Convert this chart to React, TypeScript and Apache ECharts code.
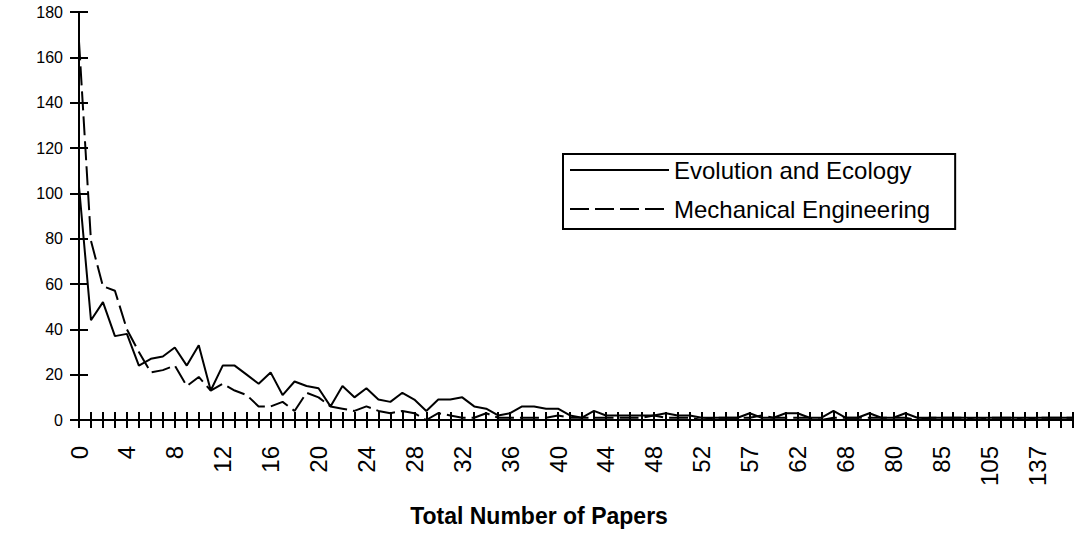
import React, { useEffect, useRef } from "react";
import * as echarts from "echarts";

// Total number of papers (category axis)
const paperCounts = [
  "0", "1", "2", "3", "4", "5", "6", "7", "8", "9",
  "10", "11", "12", "13", "14", "15", "16", "17", "18", "19",
  "20", "21", "22", "23", "24", "25", "26", "27", "28", "29",
  "30", "31", "32", "33", "34", "35", "36", "37", "38", "39",
  "40", "41", "42", "43", "44", "45", "46", "47", "48", "49",
  "50", "51", "52", "53", "54", "55", "57", "58", "59", "60",
  "62", "63", "64", "66", "68", "70", "72", "76", "80", "81",
  "82", "84", "85", "88", "92", "98", "105", "110", "118", "125",
  "137", "150", "170", "203",
];

// Evolution and Ecology (solid line)
const evolutionEcology = [
  103, 44, 52, 37, 38, 24, 27, 28, 32, 24,
  33, 13, 24, 24, 20, 16, 21, 11, 17, 15,
  14, 6, 15, 10, 14, 9, 8, 12, 9, 4,
  9, 9, 10, 6, 5, 2, 3, 6, 6, 5,
  5, 2, 1, 4, 2, 2, 2, 2, 2, 3,
  2, 2, 1, 1, 1, 1, 3, 1, 1, 3,
  3, 1, 1, 4, 1, 1, 3, 1, 1, 3,
  1, 1, 1, 1, 1, 1, 1, 1, 1, 1,
  1, 1, 1, 1,
];

// Mechanical Engineering (dashed line)
const mechanicalEngineering = [
  167, 79, 59, 57, 40, 30, 21, 22, 24, 15,
  19, 13, 16, 13, 11, 6, 6, 8, 4, 12,
  10, 6, 5, 4, 6, 4, 3, 4, 3, 0,
  3, 2, 1, 1, 3, 1, 1, 1, 1, 1,
  2, 1, 1, 1, 1, 1, 1, 1, 2, 1,
  1, 1, 0, 1, 1, 1, 1, 2, 1, 1,
  1, 1, 0, 1, 1, 1, 1, 1, 1, 1,
  0, 1, 1, 1, 1, 0, 1, 1, 1, 0,
  1, 1, 1, 1,
];

const seriesNames = ["Evolution and Ecology", "Mechanical Engineering"];
const xAxisTitle = "Total Number of Papers";
const yMin = 0;
const yMax = 180;
const yStep = 20;

const FONT = '"Liberation Sans", Arial, Helvetica, sans-serif';
const BLACK = "#000000";

export default function App() {
  const ref = useRef<HTMLDivElement | null>(null);

  useEffect(() => {
    if (!ref.current) return;
    const chart = echarts.init(ref.current, undefined, { renderer: "svg" });
    const axisLineStyle = { color: BLACK, width: 2 };

    chart.setOption({
      animation: false,
      backgroundColor: "#ffffff",
      textStyle: { fontFamily: FONT, color: BLACK },
      grid: { left: 79, right: 1, top: 12, bottom: 117, containLabel: false },
      legend: {
        data: seriesNames,
        orient: "vertical",
        left: 563,
        top: 154,
        padding: [4, 25, 8, 6],
        itemGap: 15,
        itemWidth: 99,
        itemHeight: 14,
        borderColor: BLACK,
        borderWidth: 2,
        backgroundColor: "#ffffff",
        itemStyle: { opacity: 0 },
        textStyle: { fontSize: 24, color: BLACK, fontFamily: FONT },
      },
      xAxis: [
        {
          type: "category",
          data: paperCounts,
          boundaryGap: false,
          position: "bottom",
          axisLine: { show: true, lineStyle: axisLineStyle },
          axisTick: { show: true, interval: 0, inside: false, length: 8, lineStyle: axisLineStyle },
          axisLabel: {
            interval: 3,
            rotate: 90,
            margin: 26,
            fontSize: 24,
            color: BLACK,
            fontFamily: FONT,
          },
          splitLine: { show: false },
        },
        {
          type: "category",
          data: paperCounts,
          boundaryGap: false,
          position: "bottom",
          offset: 0,
          axisLine: { show: false },
          axisTick: { show: true, interval: 0, inside: true, length: 8, lineStyle: axisLineStyle },
          axisLabel: { show: false },
          splitLine: { show: false },
        },
      ],
      yAxis: [
        {
          type: "value",
          min: yMin,
          max: yMax,
          interval: yStep,
          position: "left",
          axisLine: { show: true, lineStyle: axisLineStyle },
          axisTick: { show: true, inside: false, length: 9, lineStyle: axisLineStyle },
          axisLabel: { margin: 16, fontSize: 16, color: BLACK, fontFamily: FONT },
          splitLine: { show: false },
        },
        {
          type: "value",
          min: yMin,
          max: yMax,
          interval: yStep,
          position: "left",
          offset: 0,
          axisLine: { show: false },
          axisTick: { show: true, inside: true, length: 9, lineStyle: axisLineStyle },
          axisLabel: { show: false },
          splitLine: { show: false },
        },
      ],
      graphic: [
        {
          type: "text",
          x: 539,
          y: 516,
          style: {
            text: xAxisTitle,
            fill: BLACK,
            font: `bold 23px ${FONT}`,
            align: "center",
            verticalAlign: "middle",
          },
        },
      ],
      series: [
        {
          name: seriesNames[0],
          type: "line",
          data: evolutionEcology,
          xAxisIndex: 0,
          yAxisIndex: 0,
          symbol: "none",
          showSymbol: false,
          itemStyle: { color: BLACK },
          lineStyle: { color: BLACK, width: 2, type: "solid" },
        },
        {
          name: seriesNames[1],
          type: "line",
          data: mechanicalEngineering,
          xAxisIndex: 0,
          yAxisIndex: 0,
          symbol: "none",
          showSymbol: false,
          itemStyle: { color: BLACK },
          lineStyle: { color: BLACK, width: 2, type: [19, 6] },
        },
      ],
    });

    return () => {
      chart.dispose();
    };
  }, []);

  return (
    <div
      ref={ref}
      style={{ position: "absolute", left: 0, top: 0, width: 1074, height: 537, background: "#fff" }}
    />
  );
}
